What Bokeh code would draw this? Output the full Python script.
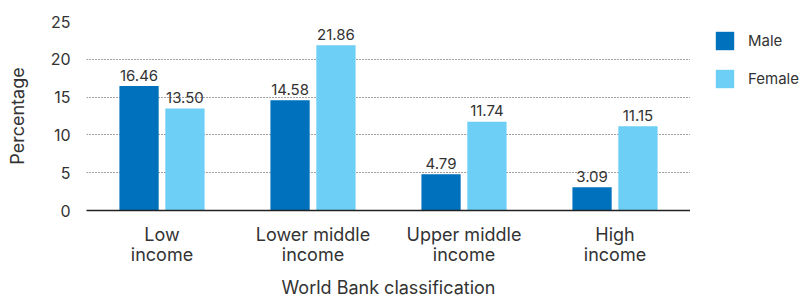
from bokeh.plotting import figure
from bokeh.models import ColumnDataSource, FactorRange, Legend, LegendItem
from bokeh.layouts import row
from bokeh.transform import dodge
from bokeh.core.properties import value
from bokeh.embed import file_html
from bokeh.resources import INLINE

categories = ["Low\nincome", "Lower middle\nincome", "Upper middle\nincome", "High\nincome"]
male = [16.46, 14.58, 4.79, 3.09]
female = [13.50, 21.86, 11.74, 11.15]
yticks = [0, 5, 10, 15, 20, 25]
series = ["Male", "Female"]

FONT = "Inter"
MALE_C = "#0071BC"
FEMALE_C = "#6DCFF6"
TXT = "#333333"

src = ColumnDataSource(dict(
    cat=categories, male=male, female=female,
    male_lbl=["%.2f" % v for v in male],
    female_lbl=["%.2f" % v for v in female],
))

p = figure(x_range=FactorRange(*categories), y_range=(0, 25),
           width=690, height=300, output_backend="svg", toolbar_location=None,
           min_border_left=86, min_border_right=0, min_border_top=21,
           min_border_bottom=90)
p.outline_line_color = None
p.background_fill_color = "white"
p.x_range.range_padding = 0

off = 0.152
w = 0.26
p.vbar(x=dodge("cat", -off, range=p.x_range), top="male", width=w, source=src,
       fill_color=MALE_C, line_color=None)
p.vbar(x=dodge("cat", off, range=p.x_range), top="female", width=w, source=src,
       fill_color=FEMALE_C, line_color=None)

for col, lbl, o in (("male", "male_lbl", -off), ("female", "female_lbl", off)):
    p.text(x=dodge("cat", o, range=p.x_range), y=col, text=lbl, source=src,
           text_align="center", text_baseline="alphabetic", y_offset=-11,
           text_font=value(FONT), text_font_size="15px", text_color=TXT)

# grid
p.xgrid.grid_line_color = None
p.ygrid.ticker = [5, 10, 15, 20, 25]
p.ygrid.grid_line_color = "#444444"
p.ygrid.grid_line_dash = "1 2"
p.ygrid.grid_line_width = 1

# y axis
ya = p.yaxis[0]
ya.ticker = yticks
ya.axis_line_color = None
ya.major_tick_line_color = None
ya.minor_tick_line_color = None
ya.major_tick_out = 0
ya.major_label_standoff = 16
ya.major_label_text_font = FONT
ya.major_label_text_font_size = "16px"
ya.major_label_text_color = TXT
ya.axis_label = "Percentage"
ya.axis_label_text_font = FONT
ya.axis_label_text_font_size = "18px"
ya.axis_label_text_font_style = "normal"
ya.axis_label_text_color = TXT
ya.axis_label_standoff = 20

# x axis
xa = p.xaxis[0]
xa.axis_line_color = "#222222"
xa.axis_line_width = 1.5
xa.major_tick_line_color = None
xa.minor_tick_line_color = None
xa.major_tick_out = 0
xa.major_label_standoff = 13
xa.major_label_text_font = FONT
xa.major_label_text_font_size = "18px"
xa.major_label_text_color = TXT
xa.major_label_text_line_height = 0.96
xa.axis_label = "World Bank classification"
xa.axis_label_text_font = FONT
xa.axis_label_text_font_size = "18px"
xa.axis_label_text_font_style = "normal"
xa.axis_label_text_color = TXT
xa.axis_label_standoff = 9

# legend panel (separate small figure to the right of the plot area)
lg = figure(width=111, height=300, output_backend="svg", toolbar_location=None,
            x_range=(0, 1), y_range=(0, 1), min_border=0, min_border_left=15)
lg.axis.visible = False
lg.grid.visible = False
lg.outline_line_color = None
dummy = ColumnDataSource(dict(x=[10], top=[10]))
lm = lg.vbar(x="x", top="top", width=0.1, source=dummy, fill_color=MALE_C, line_color=None)
lf = lg.vbar(x="x", top="top", width=0.1, source=dummy, fill_color=FEMALE_C, line_color=None)
legend = Legend(items=[LegendItem(label=series[0], renderers=[lm]),
                       LegendItem(label=series[1], renderers=[lf])],
                location="top_left", glyph_width=23, glyph_height=23,
                spacing=15, label_standoff=12, padding=0, margin=8,
                border_line_color=None, background_fill_alpha=0,
                label_text_font=FONT, label_text_font_size="15px",
                label_text_color=TXT)
lg.add_layout(legend, "center")

open("out.html", "w").write(file_html(row(p, lg, spacing=0), INLINE))
